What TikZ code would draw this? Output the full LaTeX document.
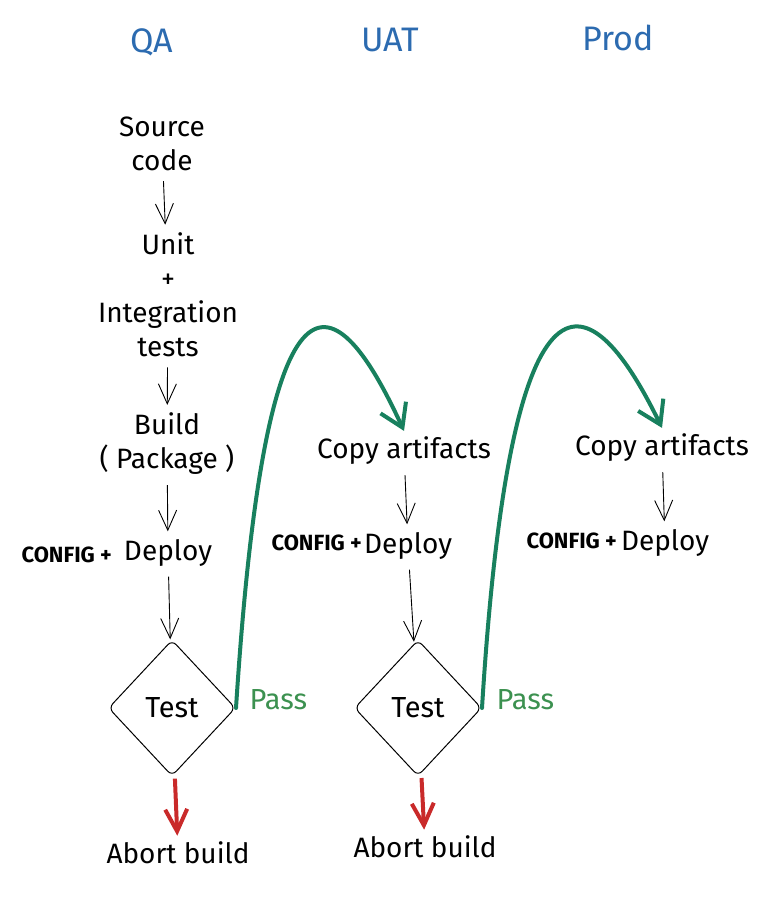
\documentclass[tikz,border=0pt]{standalone}
\usepackage{fontspec}
\setmainfont{Fira Sans}
\usetikzlibrary{arrows.meta,shapes.geometric}
\definecolor{envblue}{HTML}{2C6BB0}
\definecolor{passline}{HTML}{18805E}
\definecolor{passtext}{HTML}{3C9150}
\definecolor{failred}{HTML}{C92A2A}

\begin{document}
\begin{tikzpicture}[x=1pt, y=-1pt,
    txt/.style={font=\fontsize{28}{34}\selectfont, align=center, inner sep=6pt},
    envhead/.style={font=\fontsize{34}{40}\selectfont, text=envblue},
    cfg/.style={font=\fontsize{22}{26}\selectfont\bfseries, anchor=east, inner sep=0pt},
    testbox/.style={diamond, draw, rounded corners=6pt, line width=1pt,
        minimum width=127pt, minimum height=136pt, inner sep=0pt,
        font=\fontsize{29}{34}\selectfont},
    passtxt/.style={font=\fontsize{29}{34}\selectfont, text=passtext, anchor=west},
    thin arrow/.style={-{Straight Barb[length=20pt,width=18pt]}, line width=0.9pt,
        shorten <=4pt, shorten >=2pt},
    pass arrow/.style={-{Straight Barb[length=22pt,width=28pt]}, line width=4pt,
        draw=passline, line cap=round},
    fail arrow/.style={-{Straight Barb[length=22pt,width=22pt]}, line width=4pt,
        draw=failred, shorten <=5pt}]
    \useasboundingbox (0,0) rectangle (784,903);

    \node[envhead] (qa) at (152,42) {QA};
    \node[envhead] (uat) at (390,40) {UAT};
    \node[envhead] (prod) at (618,38) {Prod};

    \node[txt] (src) at (162,144) {Source\\code};
    \node[txt] (tests) at (168,295) {Unit\\+\\Integration\\tests};
    \node[txt] (build) at (167,444) {Build\\( Package )};
    \node[txt] (qadeploy) at (168,553) {Deploy};
    \node[cfg] (qacfg) at (112,555) {CONFIG +};
    \node[testbox] (qatest) at (172,708) {Test};
    \node[txt] (qaabort) at (178,853) {Abort build};
    \node[passtxt] (qapass) at (246,700) {Pass};

    \node[txt] (uatcopy) at (404,451) {Copy artifacts};
    \node[txt] (uatdeploy) at (408,546) {Deploy};
    \node[cfg] (uatcfg) at (362,543) {CONFIG +};
    \node[testbox] (uattest) at (418,708) {Test};
    \node[txt] (uatabort) at (425,847) {Abort build};
    \node[passtxt] (uatpass) at (493,700) {Pass};

    \node[txt] (prodcopy) at (662,448) {Copy artifacts};
    \node[txt] (proddeploy) at (665,543) {Deploy};
    \node[cfg] (prodcfg) at (617,541) {CONFIG +};

    \draw[thin arrow] (src) -- (tests);
    \draw[thin arrow] (tests) -- (build);
    \draw[thin arrow] (build) -- (qadeploy);
    \draw[thin arrow] (qadeploy) -- (qatest);
    \draw[fail arrow] (qatest) -- (qaabort);
    \draw[pass arrow] (qatest.east) .. controls (265,255) and (330,270) .. (uatcopy.north);

    \draw[thin arrow] (uatcopy) -- (uatdeploy);
    \draw[thin arrow] (uatdeploy) -- (uattest);
    \draw[fail arrow] (uattest) -- (uatabort);
    \draw[pass arrow] (uattest.east) .. controls (510,255) and (585,270) .. (prodcopy.north);

    \draw[thin arrow] (prodcopy) -- (proddeploy);
\end{tikzpicture}
\end{document}
